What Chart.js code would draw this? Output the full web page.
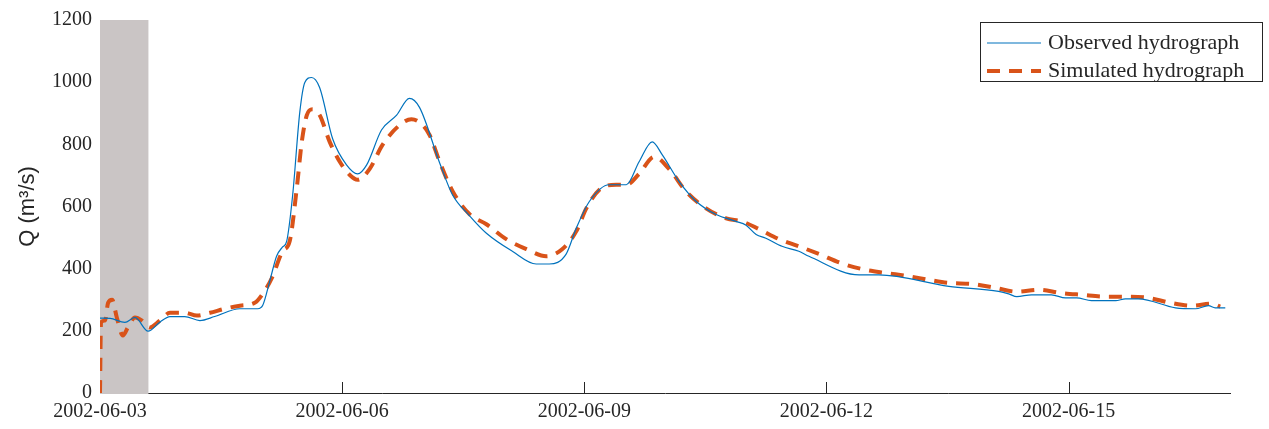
<!DOCTYPE html>
<html>
<head>
<meta charset="utf-8">
<script src="https://cdn.jsdelivr.net/npm/chart.js@4.4.1/dist/chart.umd.min.js"></script>
<style>
  html, body { margin: 0; padding: 0; background: #fff; }
  #wrap { width: 1269px; height: 429px; }
</style>
</head>
<body>
<div id="wrap"><canvas id="hydroChart" width="1269" height="429"></canvas></div>
<script>
// hours since 2002-06-03 00:00 and discharge (m3/s)
const obsHours = [0, 3, 7.4, 10.4, 14.3, 17.8, 20.8, 25.2, 29.7, 34.1, 41.6, 46.9, 48.4, 50.5, 52.5, 54.3, 55.5,
    57.3, 59.4, 60.9, 62.9, 65.3, 69.2, 73.3, 76.6, 79.3, 83.7, 88.2, 92, 95, 101, 104.8, 109.9, 114.9, 122.6,
    129.7, 133.6, 138.6, 141.6, 145.5, 151.4, 156.5, 160.3, 164.2, 167.2, 172.2, 177.3, 183.2, 189.1, 192.1,
    195.1, 198, 202.8, 207.8, 210.8, 225.7, 231.6, 252.4, 267.2, 270.2, 272.6, 277, 282.9, 287.1, 290.4, 294.8,
    302, 304.9, 308.8, 319.8, 325.7, 329.6, 331.6, 334.6];
const obsFlow = [241, 240, 227, 243, 199, 228, 246, 246, 233, 246, 271, 271, 282, 361, 440, 470, 488,
    638, 903, 999, 1015, 983, 817, 734, 705, 734, 846, 894, 948, 919, 740, 638, 570, 514, 456,
    415, 415, 447, 530, 616, 670, 670, 744, 808, 766, 680, 616, 574, 552, 540,
    510, 498, 472, 456, 440, 380, 380, 343, 327, 319, 310, 316, 316, 306, 306, 297,
    297, 303, 303, 274, 271, 281, 274, 274];

const simHours = [0, 0.3, 1.5, 2.4, 3.6, 5, 6.8, 8.3, 10.4, 12.5, 14.8, 17.8, 20.8, 25.2, 28.8, 32.7, 37.1,
    41.6, 46, 49, 51.1, 54.3, 56.4, 58.5, 60, 61.5, 63.2, 65.3, 68.3, 71.3, 74.2, 76.6, 80.2, 84, 89.1, 92.6,
    95, 98, 101, 104.8, 109.9, 114.9, 120.8, 126.8, 132.7, 137.5, 141.6, 144.6, 148.5, 153.5, 156.5, 160.3,
    164.8, 169.2, 174.3, 180.2, 186.2, 190.9, 196, 201.9, 207.8, 213.8, 220.3, 226.5, 233.7, 239.6, 246.4,
    252.4, 259.2, 266.3, 272.6, 279.1, 285.6, 291.9, 299, 305.2, 311.7, 318.3, 324.5, 330.5, 333.1];
const simFlow = [0, 227, 233, 290, 300, 243, 185, 211, 243, 233, 211, 233, 258, 258, 249, 258, 271,
    281, 290, 329, 370, 456, 488, 658, 808, 894, 913, 894, 808, 744, 702, 686, 721, 798, 862, 881,
    871, 830, 744, 650, 575, 543, 495, 463, 440, 463, 520, 594, 654, 670, 670, 705,
    760, 721, 648, 594, 562, 552, 527, 495, 472, 447, 418, 399, 386, 377, 364,
    354, 351, 338, 326, 332, 322, 316, 310, 310, 306, 290, 281, 287, 278];

const warmupHours = 14.4;
const startDate = Date.UTC(2002, 5, 3);

function toPoints(xs, ys) {
    return xs.map(function(x, i) { return { x: x, y: ys[i] }; });
}

const serif = "'Liberation Serif', 'DejaVu Serif', serif";

// grey warm-up patch and inward ticks, drawn over the axes like the original
const warmupPlugin = {
    id: 'warmup',
    beforeDatasetsDraw: function(chart) {
        var ctx = chart.ctx;
        var xs = chart.scales.x, ys = chart.scales.y;
        ctx.save();
        ctx.strokeStyle = '#262626';
        ctx.lineWidth = 1;
        xs.ticks.forEach(function(t) {
            var px = Math.round(xs.getPixelForValue(t.value)) + 0.5;
            ctx.beginPath();
            ctx.moveTo(px, ys.bottom);
            ctx.lineTo(px, ys.bottom - 11);
            ctx.stroke();
        });
        var py = Math.round(ys.getPixelForValue(1200)) + 0.5;
        ctx.beginPath();
        ctx.moveTo(xs.left, py);
        ctx.lineTo(xs.left + 11, py);
        ctx.stroke();
        var x0 = xs.getPixelForValue(0), x1 = xs.getPixelForValue(warmupHours);
        var y0 = ys.getPixelForValue(1200), y1 = ys.getPixelForValue(0);
        ctx.fillStyle = '#cac5c5';
        ctx.fillRect(x0, y0, x1 - x0, y1 - y0 + 1);
        ctx.restore();
    }
};

const boxLegend = {
    id: 'boxLegend',
    afterDraw: function(chart) {
        var ctx = chart.ctx;
        var left = 980, top = 22, w = 282, h = 59;
        ctx.save();
        ctx.fillStyle = '#fff';
        ctx.fillRect(left, top, w, h);
        ctx.strokeStyle = '#262626';
        ctx.lineWidth = 1;
        ctx.strokeRect(left + 0.5, top + 0.5, w, h);
        ctx.font = '22px ' + serif;
        ctx.textBaseline = 'middle';
        chart.data.datasets.forEach(function(ds, i) {
            var y = top + 21 + i * 28;
            ctx.strokeStyle = ds.borderColor;
            ctx.lineWidth = ds.borderWidth;
            ctx.setLineDash(ds.borderDash || []);
            ctx.beginPath();
            ctx.moveTo(left + 7, y);
            ctx.lineTo(left + 61, y);
            ctx.stroke();
            ctx.setLineDash([]);
            ctx.fillStyle = '#262626';
            ctx.fillText(ds.label, left + 68, y);
        });
        ctx.restore();
    }
};

new Chart(document.getElementById('hydroChart'), {
    type: 'line',
    data: {
        datasets: [{
            label: 'Observed hydrograph',
            data: toPoints(obsHours, obsFlow),
            borderColor: '#0072BD',
            borderWidth: 1.2,
            pointRadius: 0,
            cubicInterpolationMode: 'monotone'
        }, {
            label: 'Simulated hydrograph',
            data: toPoints(simHours, simFlow),
            borderColor: '#D95319',
            borderWidth: 4,
            borderDash: [13, 9],
            pointRadius: 0,
            cubicInterpolationMode: 'monotone'
        }]
    },
    options: {
        responsive: false,
        animation: false,
        layout: { padding: { left: 0, right: 39, top: 17, bottom: 0 } },
        plugins: {
            legend: { display: false },
            tooltip: { enabled: false }
        },
        scales: {
            x: {
                type: 'linear',
                min: 0,
                max: 336,
                grid: { display: false, drawTicks: false },
                border: { display: true, color: '#262626', width: 1 },
                afterBuildTicks: function(scale) {
                    scale.ticks = scale.ticks.filter(function(t) { return t.value % 72 === 0; });
                },
                afterFit: function(scale) { scale.height = 36; },
                ticks: {
                    stepSize: 72,
                    maxRotation: 0,
                    padding: 7,
                    color: '#262626',
                    font: { family: serif, size: 20 },
                    callback: function(v) {
                        return new Date(startDate + v * 3600e3).toISOString().slice(0, 10);
                    }
                }
            },
            y: {
                min: 0,
                max: 1200,
                grid: { display: false, drawTicks: false },
                border: { display: true, color: '#262626', width: 1 },
                afterFit: function(scale) { scale.width = 100; },
                ticks: {
                    stepSize: 200,
                    padding: 8,
                    color: '#262626',
                    font: { family: serif, size: 20 },
                    callback: function(v) { return String(v); }
                },
                title: {
                    display: true,
                    text: 'Q (m³/s)',
                    color: '#262626',
                    padding: { top: 15, bottom: 0 },
                    font: { family: "'Liberation Sans', Arial, sans-serif", size: 22 }
                }
            }
        }
    },
    plugins: [warmupPlugin, boxLegend]
});
</script>
</body>
</html>
